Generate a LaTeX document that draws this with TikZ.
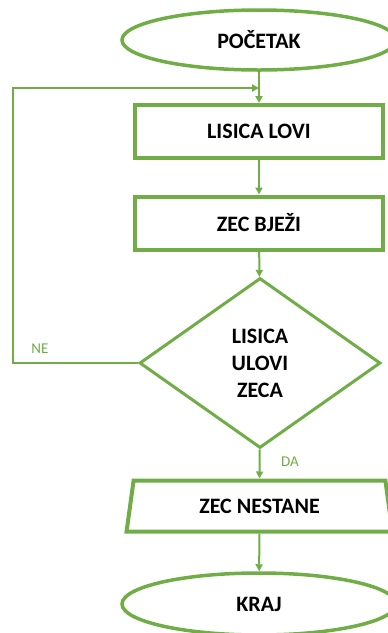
\documentclass[tikz,border=0pt]{standalone}
\usepackage{fontspec}
\setmainfont{Carlito}
\usepackage{xcolor}
\usetikzlibrary{shapes.geometric, arrows.meta}
\definecolor{zelena}{RGB}{112,173,71}
\tikzset{every node/.append style={font=\bfseries\fontsize{22}{27}\selectfont}}
\tikzset{
  terminal/.style={ellipse, draw=zelena, line width=3.5pt, minimum width=274pt, minimum height=60pt, inner sep=0pt},
  procesbox/.style={rectangle, draw=zelena, line width=4pt, minimum width=248pt, minimum height=53pt, inner sep=0pt},
  odluka/.style={diamond, draw=zelena, line width=3pt, aspect=1.42, minimum width=241pt, minimum height=170pt, inner sep=0pt, align=center},
  izlaz/.style={trapezium, trapezium left angle=77, trapezium right angle=77, trapezium stretches=true, draw=zelena, line width=4pt, minimum width=266pt, minimum height=51pt, inner sep=0pt},
  veza/.style={->, draw=zelena, line width=2pt},
  oznaka/.style={text=zelena, font=\fontsize{15}{18}\selectfont}
}

\begin{document}
\begin{tikzpicture}[x=1pt, y=-1pt, >={Triangle[length=7pt,width=7pt]}]
    \useasboundingbox (0,0) rectangle (388,633);
    % blocks of the flowchart
    \node[terminal] (poc) at (259,40) {POČETAK};
    \node[procesbox] (lovi) at (259,131.5) {LISICA LOVI};
    \node[procesbox] (bjezi) at (259,223) {ZEC BJEŽI};
    \node[odluka] (ulovi) at (260,363) {LISICA\\ULOVI\\ZECA};
    \node[izlaz] (nestane) at (259.5,506) {ZEC NESTANE};
    \node[terminal, minimum height=62pt] (kraj) at (259,604) {KRAJ};
    % connectors
    \coordinate (ulaz) at (259,88);
    \draw[veza] (poc) -- (lovi);
    \draw[veza] (lovi) -- (bjezi);
    \draw[veza] (bjezi) -- (ulovi);
    \draw[veza] (ulovi) -- (nestane);
    \draw[veza] (nestane) -- (kraj);
    \draw[veza] (ulovi.west) -- (13,363) -- (13,88) -- (ulaz);
    % branch labels
    \node[oznaka] (ne) at (40,349) {NE};
    \node[oznaka] (da) at (290,462) {DA};
\end{tikzpicture}
\end{document}
